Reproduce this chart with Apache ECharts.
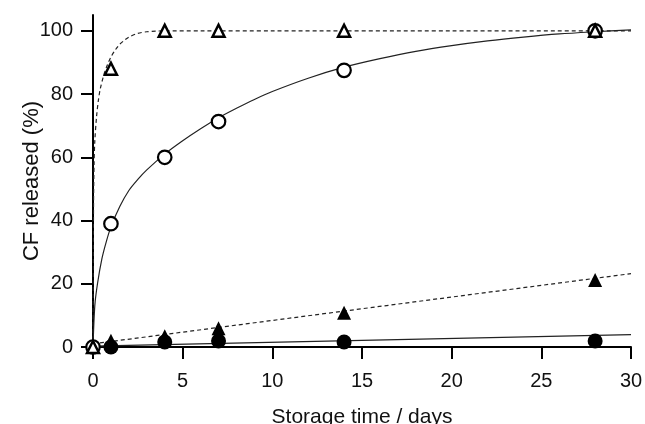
<!DOCTYPE html>
<html>
<head>
<meta charset="utf-8">
<script src="https://cdn.jsdelivr.net/npm/echarts@6/dist/echarts.min.js"></script>
<style>
html,body{margin:0;padding:0;background:#fff;}
#chart{width:645px;height:424px;}
</style>
</head>
<body>
<div id="chart"></div>
<script>
// Measured data (storage time in days, CF released in %)
const openTriangles = [[0,0],[1,88],[4,100],[7,100],[14,100],[28,100]];
const openCircles = [[0,0],[1,39],[4,60],[7,71.3],[14,87.5],[28,100]];
const filledTriangles = [[1,2],[4,3.4],[7,5.9],[14,10.8],[28,21.2]];
const filledCircles = [[1,0],[4,1.6],[7,1.9],[14,1.6],[28,1.9]];

// Fitted curves
const fitOpenTriangles = [[0,0],[0.03,45],[0.06,58],[0.1,65],[0.2,73],[0.3,78],[0.4,81.5],[0.6,86],[0.8,89.2],[1,91.7],[1.25,94],[1.5,95.8],[1.75,97],[2,98],[2.5,99.2],[3,99.7],[3.5,99.9],[4,100],[6,100],[10,100],[20,100],[30,100]];
const fitOpenCircles = [[0,0],[0.1,13],[0.25,20],[0.5,28],[0.75,33.5],[1,38],[1.5,44.5],[2,49.5],[2.5,53],[3,56],[4,61],[5,65.2],[6,69],[7,72.5],[8,75.5],[9,78.3],[10,80.8],[12,85],[14,88.5],[16,91.2],[18,93.5],[20,95.3],[22,96.8],[24,98],[26,99],[28,99.7],[30,100.3]];
const fitFilledTriangles = [[0,1],[30,23.2]];
const fitFilledCircles = [[0,0.3],[30,3.9]];

const yTicks = [0,20,40,60,80,100];
const xTicks = [0,5,10,15,20,25,30];

const chart = echarts.init(document.getElementById('chart'), null, {renderer:'canvas'});
const font = 'Liberation Sans, Arial, Helvetica, sans-serif';
const lineCol = '#222';
const axisStyle = {lineStyle:{color:'#000', width:2}};
chart.setOption({
  backgroundColor:'#fff',
  animation:false,
  grid:{left:93, right:14, top:15, bottom:77, containLabel:false, outerBoundsMode:'none'},
  xAxis:{
    type:'value', min:0, max:30, interval:5,
    name:'Storage time / days', nameLocation:'middle', nameGap:60, nameMoveOverlap:false,
    nameTextStyle:{fontFamily:font, fontSize:21, color:'#111'},
    axisLine:{show:true, onZero:false, ...axisStyle},
    axisTick:{show:true, length:12, lineStyle:{color:'#000', width:2}, customValues:xTicks},
    axisLabel:{fontFamily:font, fontSize:20, color:'#111', margin:24, customValues:xTicks},
    splitLine:{show:false}
  },
  yAxis:{
    type:'value', min:0, max:105, interval:20,
    name:'CF released (%)', nameLocation:'middle', nameGap:50, nameRotate:90, nameMoveOverlap:false,
    nameTextStyle:{fontFamily:font, fontSize:22, color:'#111'},
    axisLine:{show:true, onZero:false, ...axisStyle},
    axisTick:{show:true, length:12, lineStyle:{color:'#000', width:2}, customValues:yTicks},
    axisLabel:{fontFamily:font, fontSize:20, color:'#111', margin:20, customValues:yTicks},
    splitLine:{show:false}
  },
  series:[
    {type:'line', data:fitFilledCircles, showSymbol:false, symbol:'none', lineStyle:{color:lineCol, width:1.2}, z:1},
    {type:'line', data:fitFilledTriangles, showSymbol:false, symbol:'none', lineStyle:{color:lineCol, width:1.2, type:[4,3]}, z:1},
    {type:'line', data:fitOpenCircles, showSymbol:false, symbol:'none', smooth:0.3, lineStyle:{color:lineCol, width:1.2}, z:1},
    {type:'line', data:fitOpenTriangles, showSymbol:false, symbol:'none', smooth:0.3, lineStyle:{color:lineCol, width:1.2, type:[4,3]}, z:1},
    {type:'scatter', data:filledCircles, symbol:'circle', symbolSize:15, itemStyle:{color:'#000', opacity:1}, clip:false, z:3},
    {type:'scatter', data:filledTriangles, symbol:'triangle', symbolSize:[14,14], itemStyle:{color:'#000', opacity:1}, clip:false, z:3},
    {type:'scatter', data:openCircles, symbol:'circle', symbolSize:13.5, itemStyle:{color:'#fff', borderColor:'#000', borderWidth:2.2, opacity:1}, clip:false, z:4},
    {type:'scatter', data:openTriangles, symbol:'triangle', symbolSize:[12,12], itemStyle:{color:'#fff', borderColor:'#000', borderWidth:2.5, opacity:1}, clip:false, z:5}
  ]
});
</script>
</body>
</html>
